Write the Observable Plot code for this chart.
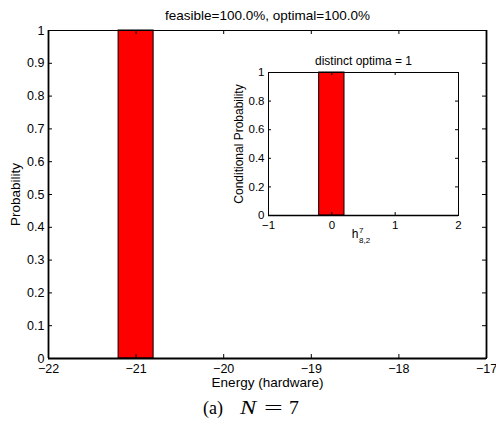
<!DOCTYPE html>
<html><head><meta charset="utf-8">
<script src="https://cdn.jsdelivr.net/npm/d3@7"></script>
<script src="https://cdn.jsdelivr.net/npm/@observablehq/plot@0.6"></script>
<style>
body{margin:0;background:#fff;}
#wrap{position:relative;width:496px;height:426px;overflow:hidden;}
#main,#inset{position:absolute;}
#main{left:0;top:0;}
#inset{left:223px;top:48px;}
#caption span{position:absolute;top:399px;font-family:"Liberation Serif",serif;font-size:18px;line-height:18px;color:#000;white-space:nowrap;transform-origin:0 50%;}
</style></head><body>
<div id="wrap"><div id="main"></div><div id="inset"></div>
<div id="caption"><span style="left:203px">(a)</span><span style="left:240px;font-style:italic;transform:scaleX(1.35)">N</span><span style="left:264px;transform:scaleX(1.85)">=</span><span style="left:289px;transform:scaleX(1.1)">7</span></div></div>
<script>
// ---- data ----
const energies = [-21];
const probabilities = [1];
const xTicks = [-22, -21, -20, -19, -18, -17];
const yTicks = [0, 0.1, 0.2, 0.3, 0.4, 0.5, 0.6, 0.7, 0.8, 0.9, 1];
const insetValues = [0];
const insetProbabilities = [1];
const insetXTicks = [-1, 0, 1, 2];
const insetYTicks = [0, 0.2, 0.4, 0.6, 0.8, 1];
const mainTitle = "feasible=100.0%, optimal=100.0%";
const insetTitle = "distinct optima = 1";

const barWidth = 0.4;
const bars = energies.map((e, i) => ({e, p: probabilities[i]}));
const insetBars = insetValues.map((e, i) => ({e, p: insetProbabilities[i]}));
const minus = s => String(s).replace("-", "\u2212");
const font = "Liberation Sans, Arial, sans-serif";

// inward (MATLAB-style) tick marks on all four sides, len px long
function inwardTicks(xt, yt, len, w, h) {
  return [
    Plot.ruleX(xt, {x: d => d, insetTop: h - len}),
    Plot.ruleX(xt, {x: d => d, insetBottom: h - len}),
    Plot.ruleY(yt, {y: d => d, insetRight: w - len}),
    Plot.ruleY(yt, {y: d => d, insetLeft: w - len})
  ];
}

const M = {w: 496, h: 390, l: 48, r: 10, t: 30, b: 32};
const main = Plot.plot({
  width: M.w, height: M.h,
  marginLeft: M.l, marginRight: M.r, marginTop: M.t, marginBottom: M.b,
  style: {fontFamily: font, fontSize: "12.5px", color: "black", background: "white", overflow: "visible"},
  x: {domain: d3.extent(xTicks)},
  y: {domain: d3.extent(yTicks)},
  marks: [
    Plot.rectY(bars, {x1: d => d.e - barWidth / 2, x2: d => d.e + barWidth / 2, y1: 0, y2: "p", fill: "#ff0000", stroke: "black", strokeWidth: 1}),
    ...inwardTicks(xTicks, yTicks, 4, M.w - M.l - M.r, M.h - M.t - M.b),
    Plot.ruleY([0], {strokeWidth: 2}),
    Plot.frame({stroke: "black"}),
    Plot.ruleX(d3.extent(xTicks), {strokeWidth: 1.8}),
    Plot.axisX(xTicks, {tickSize: 0, tickPadding: 6, tickFormat: minus, label: null}),
    Plot.axisY(yTicks, {tickSize: 0, tickPadding: 4, tickFormat: d => String(d), label: null}),
    Plot.text([mainTitle], {frameAnchor: "top", dy: -15.3, lineAnchor: "middle", fontSize: 13.5}),
    Plot.text(["Energy (hardware)"], {frameAnchor: "bottom", dy: 24.5, lineAnchor: "middle", fontSize: 13.5}),
    Plot.text(["Probability"], {frameAnchor: "left", dx: -32.8, rotate: -90, textAnchor: "middle", lineAnchor: "middle", fontSize: 13.5})
  ]
});
document.getElementById("main").append(main);

const I = {w: 247, h: 201, l: 45, r: 12, t: 24, b: 34};
const inset = Plot.plot({
  width: I.w, height: I.h,
  marginLeft: I.l, marginRight: I.r, marginTop: I.t, marginBottom: I.b,
  style: {fontFamily: font, fontSize: "11.5px", color: "black", background: "transparent", overflow: "visible"},
  x: {domain: d3.extent(insetXTicks)},
  y: {domain: d3.extent(insetYTicks)},
  marks: [
    Plot.frame({fill: "white", stroke: "none"}),
    Plot.rectY(insetBars, {x1: d => d.e - barWidth / 2, x2: d => d.e + barWidth / 2, y1: 0, y2: "p", fill: "#ff0000", stroke: "black", strokeWidth: 1}),
    ...inwardTicks(insetXTicks, insetYTicks, 3, I.w - I.l - I.r, I.h - I.t - I.b),
    Plot.ruleY([0], {strokeWidth: 1.5}),
    Plot.frame({stroke: "black"}),
    Plot.axisX(insetXTicks, {tickSize: 0, tickPadding: 5, tickFormat: minus, label: null}),
    Plot.axisY(insetYTicks, {tickSize: 0, tickPadding: 4, tickFormat: d => String(d), label: null}),
    Plot.text([insetTitle], {frameAnchor: "top", dy: -11.3, lineAnchor: "middle", fontSize: 12}),
    Plot.text(["Conditional Probability"], {frameAnchor: "left", dx: -29.8, rotate: -90, textAnchor: "middle", lineAnchor: "middle", fontSize: 12}),
    Plot.text(["h"], {frameAnchor: "bottom", dx: -5, dy: 18.9, textAnchor: "end", lineAnchor: "middle", fontSize: 12}),
    Plot.text(["7"], {frameAnchor: "bottom", dx: -4.5, dy: 15.4, textAnchor: "start", lineAnchor: "middle", fontSize: 8}),
    Plot.text(["8,2"], {frameAnchor: "bottom", dx: -4.5, dy: 25.4, textAnchor: "start", lineAnchor: "middle", fontSize: 8})
  ]
});
document.getElementById("inset").append(inset);
</script>
</body></html>
